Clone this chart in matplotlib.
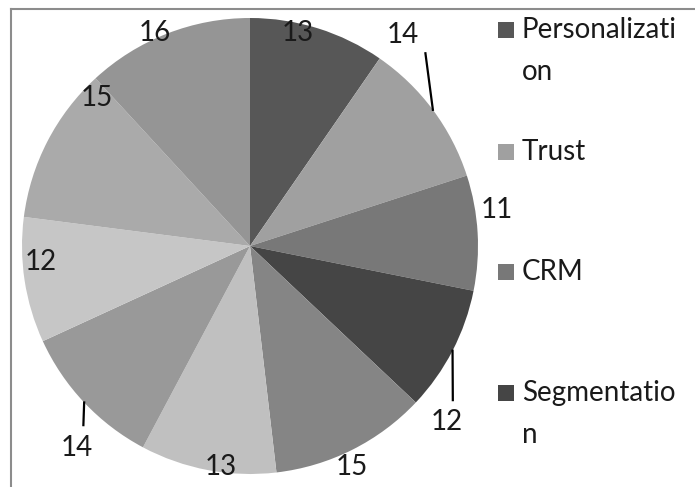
import numpy as np
import matplotlib.pyplot as plt
from matplotlib.lines import Line2D
from matplotlib.patches import Rectangle

values = [13, 14, 11, 12, 15, 13, 14, 12, 15, 16]
legend_labels = ["Personalizati\non", "Trust", "CRM", "Segmentatio\nn"]
colors = ["#575757", "#a0a0a0", "#787878", "#454545", "#858585",
          "#c0c0c0", "#999999", "#c6c6c6", "#aaaaaa", "#959595"]

# where each value label sits (radius, angle shift in degrees clockwise)
label_dist = [0.957, 1.143, 1.095, 1.159, 1.067, 0.978, 1.169, 0.92, 0.934, 1.023]
label_shift = [-4.6, -17.3, -5, 14.5, 1.9, -3, -6, 4.3, 16.7, -2.7]
leaders = {1: (0.097, -0.079), 3: (0.026, 0.097), 6: (0.031, 0.101)}

W, H = 695, 487
font = "Lato"
txt_col = "#1a1a1a"

fig = plt.figure(figsize=(W / 100, H / 100), dpi=100)
ax = fig.add_axes([22 / W, 1 - 474 / H, 456 / W, 456 / H])
wedges, _ = ax.pie(values, colors=colors, startangle=90, counterclock=False,
                   radius=1, wedgeprops=dict(linewidth=0))
ax.set_xlim(-1, 1)
ax.set_ylim(-1, 1)
ax.set_aspect("equal")
ax.axis("off")

for i, (w, v) in enumerate(zip(wedges, values)):
    mid = np.deg2rad((w.theta1 + w.theta2) / 2)
    ang = mid - np.deg2rad(label_shift[i])
    lx, ly = label_dist[i] * np.cos(ang), label_dist[i] * np.sin(ang)
    ax.text(lx, ly, str(v), ha="center", va="center", fontsize=20,
            family=font, color=txt_col, clip_on=False)
    if i in leaders:
        ox, oy = leaders[i]
        ax.plot([np.cos(mid), lx + ox], [np.sin(mid), ly + oy],
                color="black", lw=1.6, clip_on=False)

# legend, drawn by hand so the wrapped labels line up like the original
leg_y = [30, 152, 272, 393]
for i, lab in enumerate(legend_labels):
    y = leg_y[i]
    fig.add_artist(Rectangle((498 / W, 1 - (y + 8) / H), 16 / W, 16 / H,
                             transform=fig.transFigure,
                             facecolor=wedges[i].get_facecolor(), lw=0))
    for j, line in enumerate(lab.split("\n")):
        fig.text(522 / W, 1 - (y + j * 42) / H, line, ha="left", va="center",
                 fontsize=20, family=font, color=txt_col)

# chart area border (only left and top edges fall inside the picture)
fig.add_artist(Line2D([11 / W, 11 / W], [0, 1 - 9 / H], color="#8c8c8c",
                      lw=1.5, transform=fig.transFigure))
fig.add_artist(Line2D([11 / W, 1], [1 - 9 / H, 1 - 9 / H], color="#8c8c8c",
                      lw=1.5, transform=fig.transFigure))

fig.savefig("out.png", dpi=100)
